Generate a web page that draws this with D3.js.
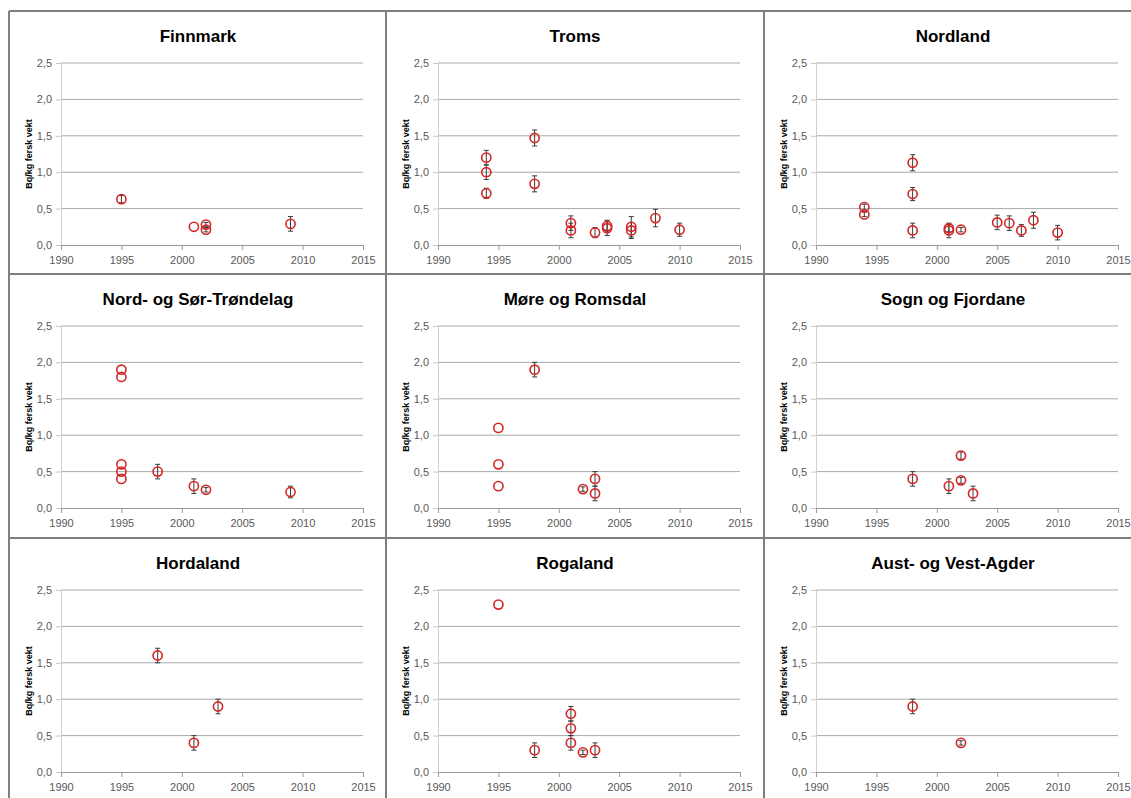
<!DOCTYPE html>
<html>
<head>
<meta charset="utf-8">
<script src="https://cdn.jsdelivr.net/npm/d3@7"></script>
<style>
  html, body { margin: 0; padding: 0; background: #fff; }
  svg { display: block; }
  text { font-family: "Liberation Sans", Arial, sans-serif; }
</style>
</head>
<body>
<svg id="chart" width="1131" height="798"></svg>
<script>
// Cs-137 in fish by county: [year, value (Bq/kg fersk vekt), error]
const regions = [
  "Finnmark", "Troms", "Nordland",
  "Nord- og Sør-Trøndelag", "Møre og Romsdal", "Sogn og Fjordane",
  "Hordaland", "Rogaland", "Aust- og Vest-Agder"
];

const finnmark = [
  [1995, 0.63, 0.05], [2001, 0.25, 0], [2002, 0.28, 0.03], [2002, 0.21, 0.03],
  [2009, 0.29, 0.10]
];
const troms = [
  [1994, 1.20, 0.10], [1994, 1.00, 0.10], [1994, 0.71, 0.07],
  [1998, 1.47, 0.11], [1998, 0.84, 0.11],
  [2001, 0.30, 0.10], [2001, 0.20, 0.10], [2003, 0.17, 0.07],
  [2004, 0.26, 0.08], [2004, 0.23, 0.10],
  [2006, 0.25, 0.14], [2006, 0.20, 0.11],
  [2008, 0.37, 0.12], [2010, 0.21, 0.09]
];
const nordland = [
  [1994, 0.52, 0.04], [1994, 0.42, 0.03],
  [1998, 1.13, 0.11], [1998, 0.70, 0.09], [1998, 0.20, 0.10],
  [2001, 0.23, 0.05], [2001, 0.20, 0.10], [2002, 0.21, 0.03],
  [2005, 0.31, 0.10], [2006, 0.30, 0.10], [2007, 0.20, 0.08],
  [2008, 0.34, 0.11], [2010, 0.17, 0.10]
];
const trondelag = [
  [1995, 1.90, 0], [1995, 1.80, 0], [1995, 0.60, 0], [1995, 0.50, 0], [1995, 0.40, 0],
  [1998, 0.50, 0.10], [2001, 0.30, 0.10], [2002, 0.25, 0.03], [2009, 0.22, 0.08]
];
const moreRomsdal = [
  [1995, 1.10, 0], [1995, 0.60, 0], [1995, 0.30, 0],
  [1998, 1.90, 0.10], [2002, 0.26, 0.03],
  [2003, 0.40, 0.10], [2003, 0.20, 0.10]
];
const sognFjordane = [
  [1998, 0.40, 0.10], [2001, 0.30, 0.10],
  [2002, 0.72, 0.05], [2002, 0.38, 0.04], [2003, 0.20, 0.10]
];
const hordaland = [
  [1998, 1.60, 0.10], [2001, 0.40, 0.10], [2003, 0.90, 0.10]
];
const rogaland = [
  [1995, 2.30, 0], [1998, 0.30, 0.10],
  [2001, 0.80, 0.10], [2001, 0.60, 0.10], [2001, 0.40, 0.10],
  [2002, 0.27, 0.03], [2003, 0.30, 0.10]
];
const agder = [
  [1998, 0.90, 0.10], [2002, 0.40, 0.03]
];

const regionData = [finnmark, troms, nordland, trondelag, moreRomsdal,
                    sognFjordane, hordaland, rogaland, agder];

const xTicks = [1990, 1995, 2000, 2005, 2010, 2015];
const yTicks = [0, 0.5, 1.0, 1.5, 2.0, 2.5];
const yLabel = "Bq/kg fersk vekt";

// Layout of the 3 x 3 grid
const svg = d3.select("#chart");
const colX = [9, 386, 764];
const rowY = [11, 274, 538];
const cellW = 378, cellH = 264;
const plot = { left: 52, top: 52, width: 302, height: 182 };

const fmt = d => d.toFixed(1).replace(".", ",");

regions.forEach((name, i) => {
  const cx = colX[i % 3], cy = rowY[Math.floor(i / 3)];
  const g = svg.append("g").attr("transform", `translate(${cx},${cy})`);

  const x = d3.scaleLinear().domain([1990, 2015]).range([0, plot.width]);
  const y = d3.scaleLinear().domain([0, 2.5]).range([plot.height, 0]);

  // title
  g.append("text")
    .attr("x", cellW / 2).attr("y", 31)
    .attr("text-anchor", "middle")
    .attr("font-size", 17).attr("font-weight", "bold")
    .attr("fill", "#000")
    .text(name);

  const p = g.append("g").attr("transform", `translate(${plot.left},${plot.top})`);

  // horizontal gridlines
  p.append("g").selectAll("line")
    .data(yTicks.slice(1))
    .join("line")
    .attr("x1", 0).attr("x2", plot.width)
    .attr("y1", d => y(d)).attr("y2", d => y(d))
    .attr("stroke", "#a9a9a9").attr("stroke-width", 1);

  // y axis
  const ya = p.append("g")
    .call(d3.axisLeft(y).tickValues(yTicks).tickFormat(fmt).tickSize(5).tickPadding(4));
  ya.select(".domain").attr("stroke", "#d0d0d0");
  ya.selectAll(".tick line").attr("stroke", "#c8c8c8");
  ya.selectAll("text").attr("font-size", 11).attr("fill", "#595959")
    .attr("font-family", "'Liberation Sans', Arial, sans-serif");

  // x axis
  const xa = p.append("g").attr("transform", `translate(0,${plot.height})`)
    .call(d3.axisBottom(x).tickValues(xTicks).tickFormat(d3.format("d")).tickSize(5).tickPadding(6));
  xa.select(".domain").attr("stroke", "#9a9a9a");
  xa.selectAll(".tick line").attr("stroke", "#9a9a9a");
  xa.selectAll("text").attr("font-size", 11).attr("fill", "#595959")
    .attr("font-family", "'Liberation Sans', Arial, sans-serif");

  // y axis title
  g.append("text")
    .attr("transform", `translate(20,${plot.top + plot.height / 2}) rotate(-90)`)
    .attr("text-anchor", "middle")
    .attr("dy", "0.35em")
    .attr("font-size", 9).attr("font-weight", "bold")
    .attr("fill", "#000")
    .text(yLabel);

  const pts = regionData[i];

  // error bars
  const eb = p.append("g").attr("stroke", "#3a3a3a").attr("stroke-width", 1);
  pts.filter(d => d[2] > 0).forEach(d => {
    const px = x(d[0]), y1 = y(d[1] + d[2]), y2 = y(d[1] - d[2]);
    eb.append("line").attr("x1", px).attr("x2", px).attr("y1", y1).attr("y2", y2);
    eb.append("line").attr("x1", px - 2.5).attr("x2", px + 2.5).attr("y1", y1).attr("y2", y1);
    eb.append("line").attr("x1", px - 2.5).attr("x2", px + 2.5).attr("y1", y2).attr("y2", y2);
  });

  // markers
  p.append("g").selectAll("circle")
    .data(pts)
    .join("circle")
    .attr("cx", d => x(d[0])).attr("cy", d => y(d[1]))
    .attr("r", 4.6)
    .attr("fill", "none")
    .attr("stroke", "#d42626").attr("stroke-width", 1.6);
});

// panel frame
const frame = svg.append("g").attr("stroke", "#7f7f7f").attr("stroke-width", 2).attr("fill", "none");
colX.forEach(xv => frame.append("line").attr("x1", xv).attr("x2", xv).attr("y1", rowY[0]).attr("y2", 800));
rowY.forEach(yv => frame.append("line").attr("x1", colX[0]).attr("x2", 1131).attr("y1", yv).attr("y2", yv));
</script>
</body>
</html>
